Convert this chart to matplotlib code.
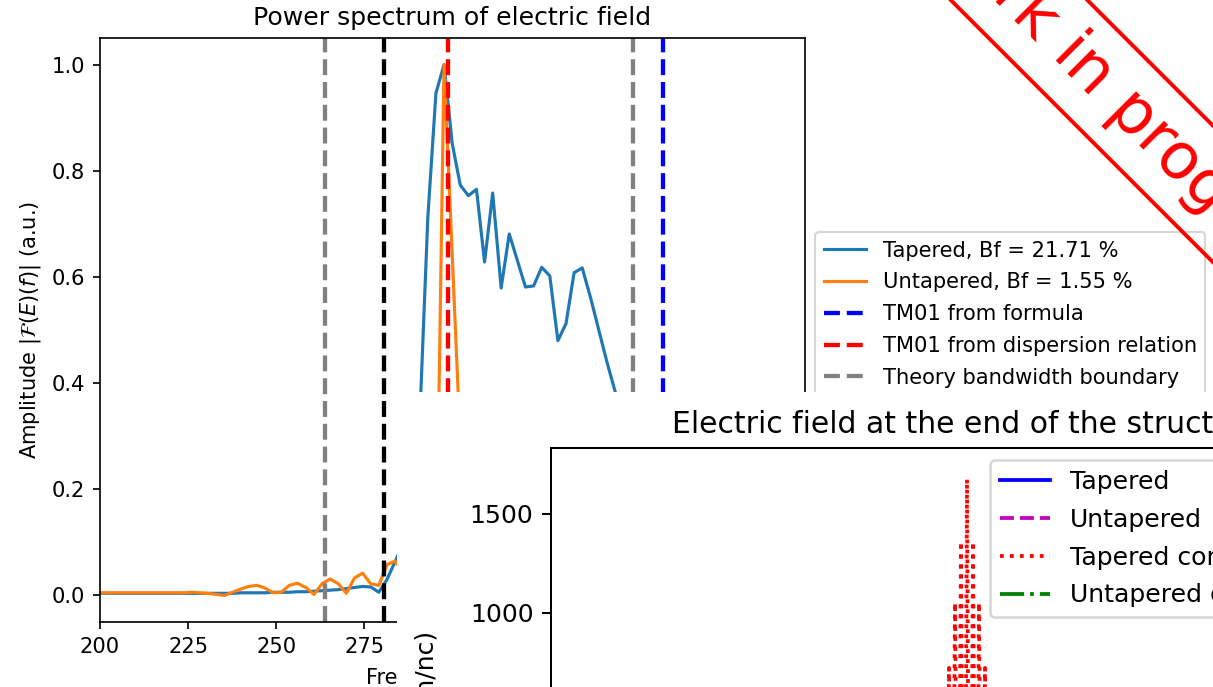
import matplotlib
matplotlib.use("Agg")
import matplotlib.pyplot as plt
from matplotlib.patches import Rectangle

# ---------------- spectrum data ----------------
freq_ghz = [198.3, 200.6, 202.9, 205.2, 207.5, 209.8, 212.2, 214.5, 216.8, 219.1,
            221.4, 223.7, 226.0, 228.3, 230.6, 233.0, 235.3, 237.6, 239.9, 242.2,
            244.5, 246.8, 249.1, 251.4, 253.7, 256.0, 258.4, 260.7, 263.0, 265.3,
            267.6, 269.9, 272.2, 274.5, 276.8, 279.1, 281.4, 283.8, 286.1, 288.4,
            290.7, 293.0, 295.3, 297.6, 299.9, 302.2, 304.5, 306.8, 309.1, 311.4,
            313.8, 316.1, 318.4, 320.7, 323.0, 325.3, 327.6, 329.9, 332.2, 334.5,
            336.8, 339.2, 341.5, 343.8, 346.1, 348.4, 350.7, 353.0, 355.3, 357.6,
            359.9, 362.2, 364.6, 366.9, 369.2, 371.5, 373.8, 376.1, 378.4, 380.7,
            383.0, 385.3, 387.6, 390.0, 392.3, 394.6, 396.9, 399.2, 401.5]

amp_tapered = [0.004, 0.004, 0.004, 0.004, 0.004, 0.004, 0.004, 0.004, 0.004, 0.004,
               0.004, 0.004, 0.004, 0.004, 0.004, 0.004, 0.004, 0.004, 0.005, 0.005,
               0.005, 0.005, 0.006, 0.006, 0.006, 0.007, 0.007, 0.008, 0.009, 0.010,
               0.011, 0.013, 0.015, 0.017, 0.016, 0.006, 0.030, 0.065, 0.100, 0.180,
               0.330, 0.712, 0.946, 1.000, 0.852, 0.773, 0.753, 0.765, 0.628, 0.758,
               0.579, 0.681, 0.631, 0.581, 0.583, 0.618, 0.602, 0.480, 0.512, 0.608,
               0.617, 0.560, 0.500, 0.440, 0.385, 0.330, 0.260, 0.200, 0.150, 0.110,
               0.080, 0.060, 0.045, 0.035, 0.028, 0.022, 0.018, 0.015, 0.013, 0.012,
               0.011, 0.010, 0.010, 0.009, 0.009, 0.008, 0.008, 0.008, 0.008]

amp_untapered = [0.005, 0.005, 0.005, 0.005, 0.005, 0.005, 0.005, 0.005, 0.005, 0.005,
                 0.005, 0.005, 0.006, 0.005, 0.004, 0.002, 0.000, 0.006, 0.012, 0.017,
                 0.019, 0.014, 0.005, 0.006, 0.019, 0.023, 0.015, 0.002, 0.022, 0.031,
                 0.022, 0.004, 0.033, 0.042, 0.022, 0.019, 0.058, 0.065, 0.040, 0.050,
                 0.030, 0.020, 0.000, 1.000, 0.645, 0.290, 0.050, 0.020, 0.015, 0.012,
                 0.010, 0.010, 0.009, 0.009, 0.008, 0.008, 0.008, 0.007, 0.007, 0.007,
                 0.006, 0.006, 0.006, 0.006, 0.006, 0.005, 0.005, 0.005, 0.005, 0.005,
                 0.005, 0.005, 0.005, 0.005, 0.005, 0.005, 0.005, 0.005, 0.005, 0.005,
                 0.005, 0.005, 0.005, 0.005, 0.005, 0.005, 0.005, 0.005, 0.005]

bf_tapered = 21.71
bf_untapered = 1.55
f_tm01_formula = 359.8
f_tm01_dispersion = 298.6
f_band_low, f_band_high = 263.8, 351.2
f_cutoff = 280.6

# ---------------- field at structure exit ----------------
time_ps = [35.38, 35.67, 35.96, 36.25, 36.54, 36.83, 37.12, 37.40, 37.69, 37.98,
           38.27, 38.56, 38.85, 39.13, 39.42, 39.71, 40.00, 40.29, 40.58, 40.87,
           41.15, 41.44, 41.73, 42.02, 42.31, 42.60, 42.88, 43.17, 43.46, 43.75,
           44.04, 44.33, 44.62]
field_tapered_corr = [0, -30, 50, -80, 120, -180, 250, -350, 450, -600,
                      720, -900, 1050, -1220, 1360, -1550, 1676, -1550, 1360, -1220,
                      1050, -900, 720, -600, 450, -350, 250, -180, 120, -80,
                      50, -30, 0]
time_short_ps = [36.0, 37.0, 38.0, 39.0, 40.0, 41.0, 42.0, 43.0, 44.0]
field_tapered = [0, 120, -260, 420, -540, 420, -260, 120, 0]
field_untapered = [0, 80, -160, 250, -300, 250, -160, 80, 0]
field_untapered_corr = [0, 100, -210, 330, -410, 330, -210, 100, 0]

W, H, DPI = 1213, 687, 151
fig = plt.figure(figsize=(W / DPI, H / DPI), dpi=DPI)


def box(left, top, width, height):
    """Figure-fraction rectangle from pixel edges (origin top-left)."""
    return [left / W, 1 - (top + height) / H, width / W, height / H]


# ---------------- power spectrum ----------------
ax = fig.add_axes(box(100, 38, 705, 584))
ax.plot(freq_ghz, amp_tapered, color="#1f77b4", lw=1.5,
        label=f"Tapered, Bf = {bf_tapered:.2f} %")
ax.plot(freq_ghz, amp_untapered, color="#ff7f0e", lw=1.5,
        label=f"Untapered, Bf = {bf_untapered:.2f} %")
vl = 2.05
ax.axvline(f_tm01_formula, color="b", ls="--", lw=vl, label="TM01 from formula")
ax.axvline(f_tm01_dispersion, color="r", ls="--", lw=vl,
           label="TM01 from dispersion relation")
ax.axvline(f_band_low, color="gray", ls="--", lw=vl,
           label="Theory bandwidth boundary")
ax.axvline(f_band_high, color="gray", ls="--", lw=vl)
ax.axvline(f_cutoff, color="k", ls="--", lw=vl, label="Cut-off frequency")
ax.set_xlim(200, 400)
ax.set_ylim(-0.05, 1.05)
ax.set_title("Power spectrum of electric field", fontsize=12)
ax.set_xlabel("Frequency (GHz)", labelpad=5.5)
ax.set_ylabel(r"Amplitude $|\mathcal{F}(E)(f)|$ (a.u.)")
ax.legend(loc="center left", bbox_to_anchor=(1.0, 0.5), labelspacing=0.56)

# ---------------- field panel ----------------
fig.patches.append(Rectangle((397 / W, 0), 1.0, (H - 392) / H,
                             transform=fig.transFigure, facecolor="white",
                             edgecolor="none", zorder=5))

s = 1.196
ax2 = fig.add_axes(box(551, 448, 832, 724))
ax2.set_zorder(6)
ax2.plot(time_short_ps, field_tapered, color="b", ls="-", lw=1.5 * s, label="Tapered")
ax2.plot(time_short_ps, field_untapered, color="m", ls="--", lw=1.5 * s, label="Untapered")
ax2.plot(time_ps, field_tapered_corr, color="r", ls=":", lw=1.5 * s,
         label="Tapered corrected")
ax2.plot(time_short_ps, field_untapered_corr, color="g", ls="-.", lw=1.5 * s,
         label="Untapered corrected")
ax2.set_xlim(0, 80)
ax2.set_ylim(-1834, 1834)
ax2.set_title("Electric field at the end of the structure", fontsize=11.9 * s,
              pad=6 * s)
ax2.tick_params(labelsize=10 * s, length=3.5 * s, width=0.8 * s, pad=3.5 * s)
for sp in ax2.spines.values():
    sp.set_linewidth(0.8 * s)
leg2 = ax2.legend(loc="upper left", bbox_to_anchor=(990 / W, 1 - 460 / H),
                  bbox_transform=fig.transFigure, borderaxespad=0, fontsize=10 * s,
                  labelspacing=0.55)
leg2.get_frame().set_linewidth(1.0 * s)
fig.text(426 / W, 1 - 631 / H, "Electric field (V/m/nc)", rotation=90,
         rotation_mode="anchor", ha="right", va="center", fontsize=10 * s, zorder=7)

# ---------------- stamp ----------------
fig.text(1124 / W, 1 - 105 / H, "Work in progress", rotation=-45,
         rotation_mode="anchor", ha="center", va="center", fontsize=30.5,
         color="red", zorder=10,
         bbox=dict(boxstyle="square,pad=0.27", facecolor="none", edgecolor="red",
                   linewidth=1.85))

fig.savefig("out.png", dpi=DPI)
